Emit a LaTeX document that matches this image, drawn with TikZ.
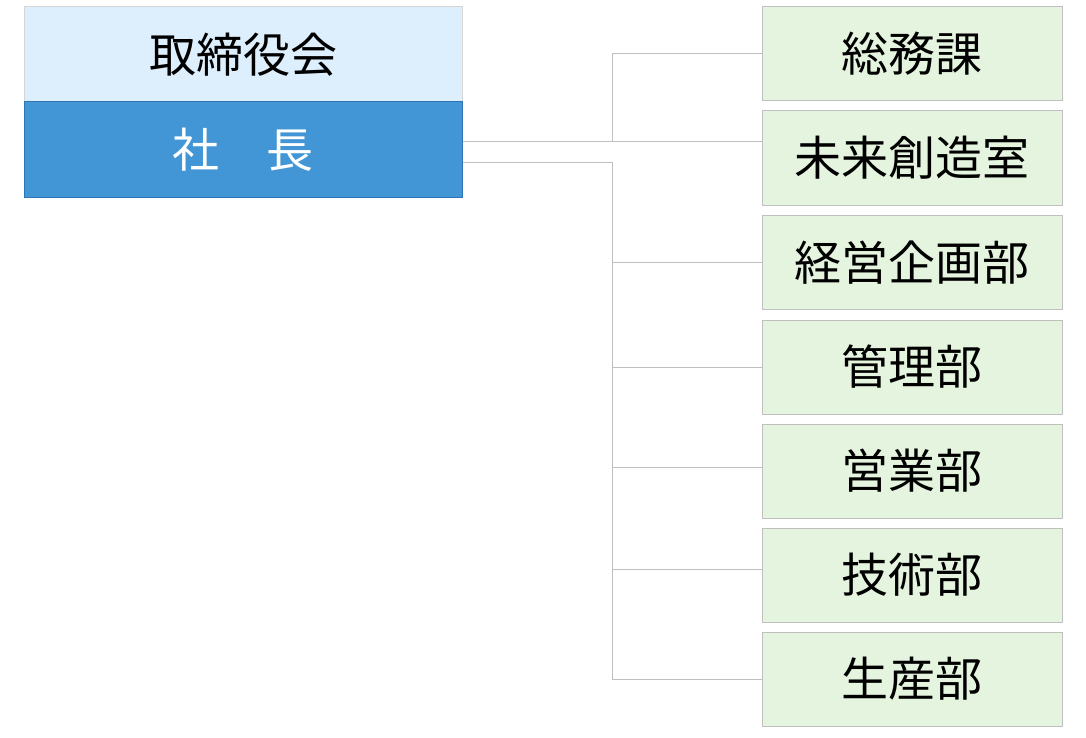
\documentclass[tikz,border=0pt]{standalone}
\usepackage{fontspec}
\setmainfont{Noto Sans CJK JP}
\usetikzlibrary{positioning}
\definecolor{board_fil}{RGB}{221, 239, 252}
\definecolor{board_out}{RGB}{214, 214, 214}
\definecolor{pres_fil}{RGB}{66, 150, 213}
\definecolor{pres_out}{RGB}{46, 117, 182}
\definecolor{dept_fil}{RGB}{229, 244, 223}
\definecolor{line_gray}{RGB}{191, 191, 191}
\newcommand\dwid{300pt}
\newcommand\dhgt{94pt}
\newcommand\twid{438pt}
\tikzset{board_box/.style = {rectangle, inner sep=0pt, minimum width=\twid, minimum height=95pt, draw=board_out, fill=board_fil, line width=1pt, font=\fontsize{47}{56}\selectfont}}
\tikzset{pres_box/.style = {rectangle, inner sep=0pt, minimum width=\twid, minimum height=95pt, draw=pres_out, fill=pres_fil, line width=1pt, text=white, font=\fontsize{47}{56}\selectfont}}
\tikzset{dept_box/.style = {rectangle, inner sep=0pt, minimum width=\dwid, minimum height=\dhgt, draw=line_gray, fill=dept_fil, line width=1pt, font=\fontsize{47}{56}\selectfont}}
\tikzset{conn/.style = {line width=1pt, draw=line_gray}}

\begin{document}
\begin{tikzpicture}[x=1pt,y=-1pt]
\useasboundingbox (0,0) rectangle (1086,738);

\node[board_box] (board) at (243,54.5) {取締役会};
\node[pres_box] (pres) at (243,149.5) {社　長};

\foreach \i/\y/\t in {1/54/総務課, 2/158/未来創造室, 3/262.5/経営企画部, 4/367/管理部, 5/471/営業部, 6/575/技術部, 7/679/生産部}{
	\node[dept_box] (d\i) at (912,\y) {\t};
	}

\coordinate (up) at (612,142);
\coordinate (low) at (612,163);
\draw[conn] (pres.east |- up) -- (d2.west |- up);
\draw[conn] (up) |- (d1.west);
\draw[conn] (pres.east |- low) -- (low) |- (d7.west);
\foreach \i/\y in {3/262,4/367,5/467,6/569}{
	\coordinate (b\i) at (612,\y);
	\draw[conn] (b\i) -- (d\i.west |- b\i);
	}
\end{tikzpicture}
\end{document}
